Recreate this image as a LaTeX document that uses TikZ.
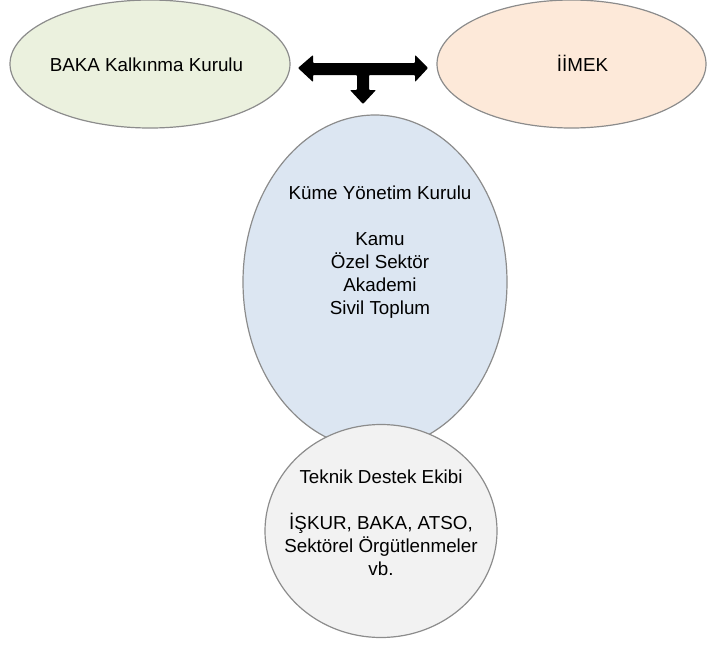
\documentclass[tikz,border=0pt]{standalone}
\usepackage{fontspec}
\setmainfont{Liberation Sans}
\usetikzlibrary{shapes.geometric}
\definecolor{bgreen}{HTML}{EBF1DE}
\definecolor{bpeach}{HTML}{FDE9D9}
\definecolor{bblue}{HTML}{DCE6F2}
\definecolor{bgray}{HTML}{F2F2F2}
\definecolor{edge}{HTML}{8C8C8C}
\begin{document}
\begin{tikzpicture}[x=1pt,y=-1pt,
  blob/.style={ellipse,draw=edge,line width=1.2pt,inner sep=0pt},
  lbl/.style={align=center,inner sep=0pt,anchor=base,font=\fontsize{18.8}{23}\selectfont,text=black}]
\useasboundingbox (0,0) rectangle (707,653);
\node[blob,fill=bgreen,minimum width=280,minimum height=128] (baka) at (150,64) {};
\node[blob,fill=bpeach,minimum width=269,minimum height=128] (iimek) at (571.5,64) {};
\node[blob,fill=bblue,minimum width=264,minimum height=334] (kume) at (375,282) {};
\node[blob,fill=bgray,minimum width=232,minimum height=213] (teknik) at (381,531) {};
\node[lbl] (bakat) at (146.5,71) {BAKA Kalkınma Kurulu};
\node[lbl] (iimekt) at (582.5,71) {İİMEK};
\node[lbl] (kumet) at (380,314) {Küme Yönetim Kurulu\\[23pt]Kamu\\Özel Sektör\\Akademi\\Sivil Toplum};
\node[lbl] (teknikt) at (381,575) {Teknik Destek Ekibi\\[23pt]İŞKUR, BAKA, ATSO,\\Sektörel Örgütlenmeler\\vb.};
\fill[black,rounded corners=0.8pt] (298,68) -- (313,55) -- (313,63) -- (415,63) -- (415,55) -- (428,68)
  -- (415,82) -- (415,75) -- (369,75) -- (369,90) -- (376,90) -- (363,104) -- (350,90)
  -- (357,90) -- (357,75) -- (313,75) -- (313,82) -- cycle;
\end{tikzpicture}
\end{document}
